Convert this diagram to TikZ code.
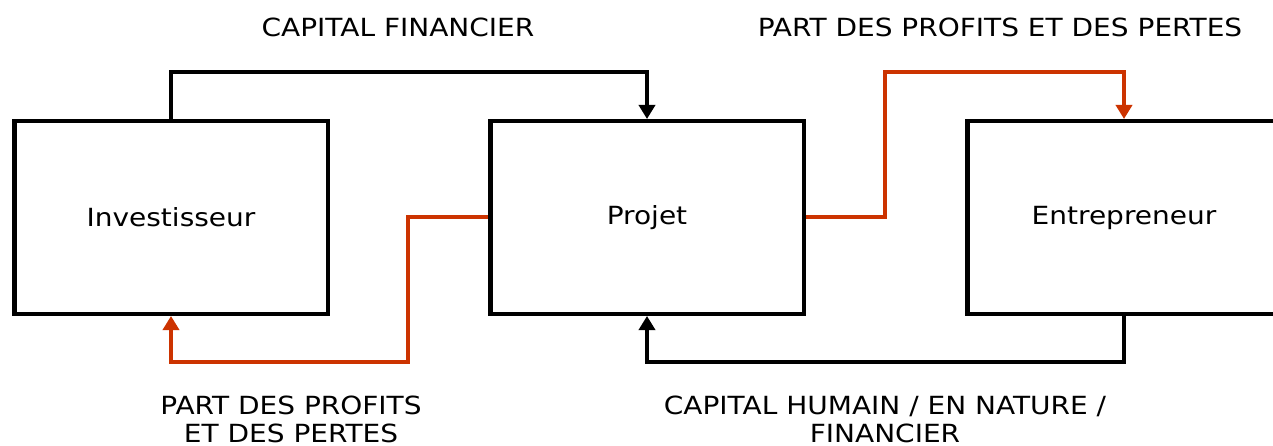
\documentclass[tikz,border=0pt]{standalone}
\usepackage{fontspec}
\setmainfont[FakeStretch=1.12]{DejaVu Sans}
\usepackage{tikz}
\usetikzlibrary{arrows.meta,calc}

\definecolor{partred}{RGB}{204,51,0}

\begin{document}
\begin{tikzpicture}[x=1pt,y=-1pt,font=\fontsize{25}{28}\selectfont]
    % `acteur' is used for the three boxes.
    % `flux' is used for the connectors, `label' for their texts.
    \tikzstyle{acteur} = [draw,line width=4.5pt,minimum width=313.5pt,minimum height=192.5pt,inner sep=0pt]
    \tikzstyle{flux} = [line width=4pt,-{Triangle[length=14pt,width=16pt]}]
    \tikzstyle{label} = [align=center,inner sep=0pt]
    %
    \useasboundingbox (0,0) rectangle (1273,446);
    \clip (0,0) rectangle (1273,446);
    %
    \node[acteur] (inv) at (171,217.5) {Investisseur};
    \node[acteur] (proj) at (647,217.5) {Projet};
    \node[acteur] (ent) at (1124,217.5) {Entrepreneur};
    %
    \node[label] (capfin) at (398,27) {CAPITAL FINANCIER};
    \node[label] (partent) at (1000,27) {PART DES PROFITS ET DES PERTES};
    \node[label] (partinv) at (291,419) {PART DES PROFITS\\ET DES PERTES};
    \node[label] (caphum) at (885,419) {CAPITAL HUMAIN / EN NATURE /\\FINANCIER};
    %
        % Black connectors.
    \draw[flux] (inv.north) -- ++(0,-47) -| (proj.north);
    \draw[flux] (ent.south) -- ++(0,46) -| (proj.south);
        % Red connectors.
    \draw[flux,partred] (proj.east) -- ++(79,0) |- ($(ent.north)+(0,-47)$) -- (ent.north);
    \draw[flux,partred] (proj.west) -- ++(-80,0) |- ($(inv.south)+(0,46)$) -- (inv.south);
\end{tikzpicture}
\end{document}
